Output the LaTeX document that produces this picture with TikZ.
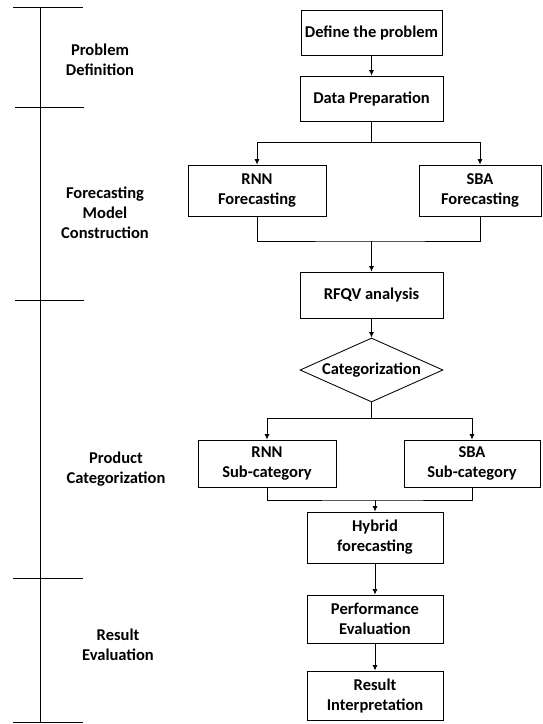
\documentclass[tikz,border=0pt]{standalone}
\usepackage{fontspec}
\setmainfont{Carlito}
\usetikzlibrary{arrows.meta,shapes.geometric}
\tikzset{
  box/.style={draw, line width=0.85pt, rectangle, inner sep=0pt, align=center, font=\fontsize{16.5}{20}\selectfont\bfseries},
  lbl/.style={inner sep=0pt, align=center, font=\fontsize{16.5}{20}\selectfont\bfseries},
  conn/.style={line width=0.85pt},
  arr/.style={line width=0.85pt, -{Latex[length=5.5pt,width=5pt]}},
  axis/.style={line width=0.9pt}
}
\begin{document}
\begin{tikzpicture}[x=1pt,y=-1pt]
\useasboundingbox (0,0) rectangle (542,724);
% left time-line
\draw[axis] (40,7) -- (40,722);
\draw[axis] (13,7) -- (83,7);
\draw[axis] (15,107) -- (84,107);
\draw[axis] (15,300) -- (84,300);
\draw[axis] (13,578) -- (83,578);
\draw[axis] (13,722) -- (83,722);
% phase labels
\node[lbl] (l1) at (100,60) {Problem\\Definition};
\node[lbl] (l2) at (105,213) {Forecasting\\Model\\Construction};
\node[lbl] (l3) at (116,469) {Product\\Categorization};
\node[lbl] (l4) at (118,645) {Result\\Evaluation};
% flow boxes
\node[box, minimum width=141pt, minimum height=45pt] (def) at (371.5,32.5) {Define the problem};
\node[box, minimum width=143pt, minimum height=45pt] (data) at (371.5,98.5) {Data Preparation};
\node[box, minimum width=138pt, minimum height=51pt] (rnnf) at (257,190.5) {RNN\\Forecasting};
\node[box, minimum width=122pt, minimum height=51pt] (sbaf) at (480,190.5) {SBA\\Forecasting};
\node[box, minimum width=143pt, minimum height=46pt] (rfqv) at (371.5,295) {RFQV analysis};
\node[box, shape=diamond, aspect=2.2, minimum width=143pt, minimum height=64pt] (cat) at (371.5,370) {Categorization};
\node[box, minimum width=138pt, minimum height=47pt] (rnns) at (267,463.5) {RNN\\Sub-category};
\node[box, minimum width=136pt, minimum height=47pt] (sbas) at (472,463.5) {SBA\\Sub-category};
\node[box, minimum width=136pt, minimum height=51pt] (hyb) at (375,537.5) {Hybrid\\forecasting};
\node[box, minimum width=136pt, minimum height=48pt] (perf) at (375,619) {Performance\\Evaluation};
\node[box, minimum width=136pt, minimum height=49pt] (res) at (375,695.5) {Result\\Interpretation};
% junction points
\coordinate (b1) at (371.5,142);
\coordinate (m1) at (371.5,241);
\coordinate (b2) at (371.5,418);
\coordinate (m2) at (375,500);
% connectors
\draw[arr] (def) -- (data);
\draw[conn] (data.south) -- (b1);
\draw[arr] (b1) -| (rnnf.north);
\draw[arr] (b1) -| (sbaf.north);
\draw[conn] (rnnf.south) |- (m1) -| (sbaf.south);
\draw[arr] (m1) -- (rfqv.north);
\draw[arr] (rfqv) -- (cat);
\draw[conn] (cat.south) -- (b2);
\draw[arr] (b2) -| (rnns.north);
\draw[arr] (b2) -| (sbas.north);
\draw[conn] (rnns.south) |- (m2) -| (sbas.south);
\draw[arr] (m2) -- (hyb.north);
\draw[arr] (hyb) -- (perf);
\draw[arr] (perf) -- (res);
\end{tikzpicture}
\end{document}
